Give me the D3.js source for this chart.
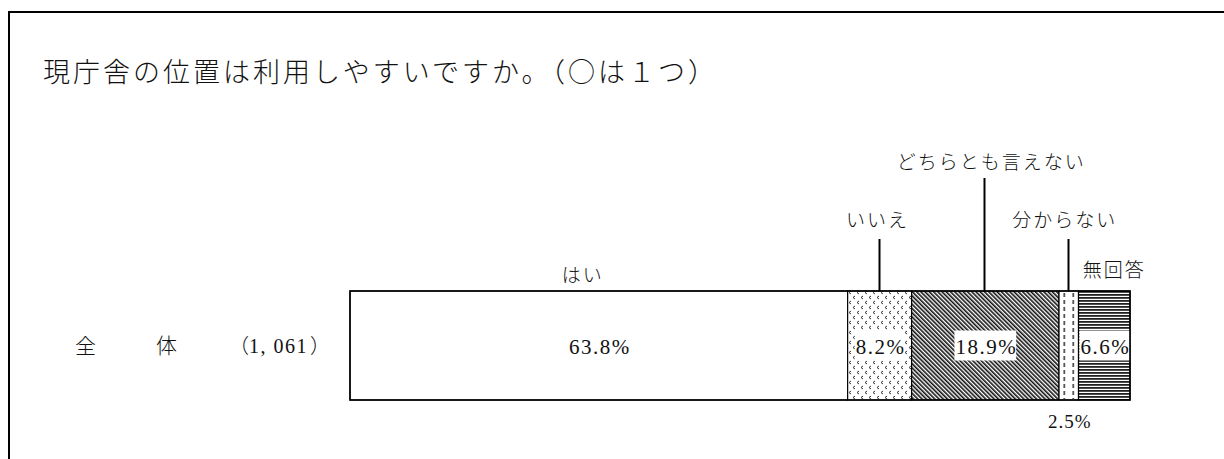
<!DOCTYPE html>
<html lang="ja">
<head>
<meta charset="utf-8">
<script src="https://cdn.jsdelivr.net/npm/d3@7"></script>
<style>
  html, body { margin: 0; padding: 0; background: #fff; }
  svg { display: block; }
  text { font-family: "Liberation Serif", serif; fill: #111; }
  text.jp, tspan.jp { font-family: "Noto Sans CJK JP", sans-serif; font-weight: 300; }
</style>
</head>
<body>
<svg id="chart" width="1224" height="459"></svg>
<script>
// Survey question and answer shares (percent of respondents)
const title = "現庁舎の位置は利用しやすいですか。（○は１つ）";
const categories = ["はい", "いいえ", "どちらとも言えない", "分からない", "無回答"];
const values = [63.8, 8.2, 18.9, 2.5, 6.6];
const rowLabel = ["全", "体"];
const rowCount = "1, 061";

const svg = d3.select("#chart");
const W = 1224, H = 459;

// Frame around the figure (open on the right)
svg.append("path")
  .attr("d", `M9,${H} V12 H${W}`)
  .attr("fill", "none").attr("stroke", "#000").attr("stroke-width", 2);

// Title
svg.append("text").attr("class", "jp")
  .attr("x", 43).attr("y", 82)
  .attr("font-size", 27)
  .attr("textLength", 672)
  .attr("lengthAdjust", "spacing")
  .text(title);

// Fill patterns for each answer
const defs = svg.append("defs");

const dots = defs.append("pattern").attr("id", "p-dots")
  .attr("patternUnits", "userSpaceOnUse").attr("width", 8).attr("height", 10);
dots.append("rect").attr("width", 8).attr("height", 10).attr("fill", "#fff");
[[1, 1], [5, 6]].forEach(([x, y]) => {
  dots.append("path")
    .attr("d", `M${x + 2},${y} L${x},${y + 1.5} L${x + 2},${y + 3}`)
    .attr("fill", "none").attr("stroke", "#333").attr("stroke-width", 1);
});

const diag = defs.append("pattern").attr("id", "p-diag")
  .attr("patternUnits", "userSpaceOnUse").attr("width", 3).attr("height", 3)
  .attr("patternTransform", "rotate(-45)");
diag.append("rect").attr("width", 3).attr("height", 3).attr("fill", "#fff");
diag.append("rect").attr("width", 1.6).attr("height", 3).attr("fill", "#111");

const horiz = defs.append("pattern").attr("id", "p-horiz")
  .attr("patternUnits", "userSpaceOnUse").attr("width", 4).attr("height", 3);
horiz.append("rect").attr("width", 4).attr("height", 3).attr("fill", "#fff");
horiz.append("rect").attr("width", 4).attr("height", 1.8).attr("fill", "#222");

const fills = ["#fff", "url(#p-dots)", "url(#p-diag)", "#fff", "url(#p-horiz)"];

// Scale: cumulative percent -> x position
const x = d3.scaleLinear().domain([0, 100]).range([350, 1130]);
const barTop = 291, barH = 109;

const starts = [];
values.reduce((acc, v) => { starts.push(acc); return acc + v; }, 0);
const segs = values.map((v, i) => ({
  name: categories[i], value: v, x0: x(starts[i]), x1: x(starts[i] + v), i
}));

const g = svg.append("g");
g.selectAll("rect.seg").data(segs).join("rect")
  .attr("class", "seg")
  .attr("x", d => d.x0).attr("y", barTop)
  .attr("width", d => d.x1 - d.x0).attr("height", barH)
  .attr("fill", d => fills[d.i])
  .attr("stroke", "#000").attr("stroke-width", 1.2);

// Dashed vertical lines inside the 分からない segment
const sm = segs[3];
[0.22, 0.68].forEach(f => {
  g.append("line")
    .attr("x1", sm.x0 + (sm.x1 - sm.x0) * f + 1).attr("x2", sm.x0 + (sm.x1 - sm.x0) * f + 1)
    .attr("y1", barTop + 2).attr("y2", barTop + barH - 1)
    .attr("stroke", "#555").attr("stroke-width", 1.8)
    .attr("stroke-dasharray", "4,3");
});

// Outer border of the bar
g.append("rect")
  .attr("x", x(0)).attr("y", barTop)
  .attr("width", x(100) - x(0)).attr("height", barH)
  .attr("fill", "none").attr("stroke", "#000").attr("stroke-width", 1.5);

// Percentage labels inside the bar
const cy = barTop + barH / 2;
const fmt = v => v.toFixed(1) + "%";
segs.forEach(d => {
  if (d.i === 3) return;
  const cx = (d.x0 + d.x1) / 2;
  const t = g.append("text")
    .attr("x", cx + 1).attr("y", cy + 8)
    .attr("text-anchor", "middle")
    .attr("font-size", 21)
    .attr("letter-spacing", "1.5px")
    .attr("font-weight", 300)
    .text(fmt(d.value));
  if (d.i > 0) {
    const bb = t.node().getBBox();
    g.insert("rect", () => t.node())
      .attr("x", bb.x - 1).attr("y", cy - 15)
      .attr("width", bb.width).attr("height", 30)
      .attr("fill", "#fff");
  }
});

// Small segment value below the bar
g.append("text")
  .attr("x", (sm.x0 + sm.x1) / 2 + 1).attr("y", 428)
  .attr("text-anchor", "middle").attr("font-size", 19)
  .attr("letter-spacing", "1px")
  .text(fmt(sm.value));

// Category labels above the bar, with leader lines
const labelLayout = [
  { dx: -17, y: 282, line: null },
  { dx: -3, y: 227, line: 239 },
  { dx: 5, y: 169, line: 178 },
  { dx: -5, y: 227, line: 239 },
  { dx: 9, y: 277, line: null }
];
segs.forEach(d => {
  const cx = (d.x0 + d.x1) / 2;
  const L = labelLayout[d.i];
  const ls = 2;
  g.append("text").attr("class", "jp")
    .attr("x", cx + L.dx + ls / 2).attr("y", L.y)
    .attr("text-anchor", "middle")
    .attr("font-size", 19)
    .attr("letter-spacing", ls + "px")
    .text(d.name);
  if (L.line !== null) {
    g.append("line")
      .attr("x1", Math.round(cx) - 0.5).attr("x2", Math.round(cx) - 0.5)
      .attr("y1", L.line).attr("y2", barTop)
      .attr("stroke", "#000").attr("stroke-width", 2);
  }
});

// Row label on the left
const rowY = cy + 7;
g.append("text").attr("class", "jp").attr("x", 75).attr("y", rowY).attr("font-size", 21).text(rowLabel[0]);
g.append("text").attr("class", "jp").attr("x", 156).attr("y", rowY).attr("font-size", 21).text(rowLabel[1]);
const rc = g.append("text").attr("x", 229).attr("y", rowY).attr("font-size", 20);
rc.append("tspan").attr("class", "jp").text("（");
rc.append("tspan").attr("letter-spacing", "1.5px").text(rowCount);
rc.append("tspan").attr("class", "jp").attr("dx", 2).text("）");
</script>
</body>
</html>
